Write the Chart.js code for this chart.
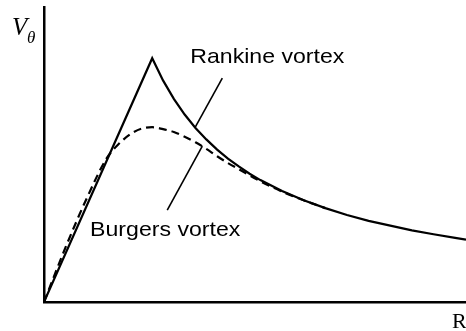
<!DOCTYPE html>
<html>
<head>
<meta charset="utf-8">
<script src="https://cdn.jsdelivr.net/npm/chart.js@4.4.0/dist/chart.umd.min.js"></script>
<style>
  html, body { margin: 0; padding: 0; background: #fff; }
  #wrap { width: 466px; height: 331px; }
</style>
</head>
<body>
<div id="wrap"><canvas id="vortex" width="466" height="331"></canvas></div>
<script>
// radius (core radius = 1) and tangential velocity (peak Rankine = 1)
var rankineR = [0, 1, 1.1, 1.2, 1.3, 1.4, 1.5, 1.6, 1.7, 1.8, 1.9, 2.0, 2.2, 2.4, 2.6, 2.8, 3.0, 3.2, 3.4, 3.6, 3.8, 3.9];
var rankineV = [0, 1, 0.909, 0.833, 0.769, 0.714, 0.667, 0.625, 0.588, 0.556, 0.526, 0.5, 0.455, 0.417, 0.385, 0.357, 0.333, 0.313, 0.294, 0.278, 0.263, 0.256];

var burgersR = [0, 0.2, 0.4, 0.58, 0.7, 0.8, 0.9, 1.0, 1.1, 1.2, 1.3, 1.4, 1.5, 1.6, 1.7, 1.8, 2.0, 2.2, 2.4, 2.6];
var burgersV = [0, 0.225, 0.43, 0.59, 0.652, 0.689, 0.711, 0.717, 0.709, 0.697, 0.678, 0.655, 0.628, 0.598, 0.57, 0.545, 0.495, 0.453, 0.417, 0.385];

// callout text and leader lines, in data units
var labelText = ['Rankine vortex', 'Burgers vortex'];
var labelAt = [[1.352, 0.98], [0.426, 0.27]];
var leaderFrom = [[1.648, 0.918], [1.463, 0.639]];
var leaderTo = [[1.398, 0.717], [1.139, 0.377]];

function pts(xs, ys) {
  return xs.map(function(x, i) { return {x: x, y: ys[i]}; });
}

var annotate = {
  id: 'annotate',
  afterDatasetsDraw: function(chart) {
    var c = chart.ctx, sx = chart.scales.x, sy = chart.scales.y;
    c.save();
    c.strokeStyle = '#000';
    c.fillStyle = '#000';
    c.lineWidth = 1.6;
    for (var i = 0; i < leaderFrom.length; i++) {
      c.beginPath();
      c.moveTo(sx.getPixelForValue(leaderFrom[i][0]), sy.getPixelForValue(leaderFrom[i][1]));
      c.lineTo(sx.getPixelForValue(leaderTo[i][0]), sy.getPixelForValue(leaderTo[i][1]));
      c.stroke();
    }
    c.font = '21px "Liberation Sans", Arial, sans-serif';
    c.textBaseline = 'alphabetic';
    for (var j = 0; j < labelText.length; j++) {
      c.save();
      c.translate(sx.getPixelForValue(labelAt[j][0]), sy.getPixelForValue(labelAt[j][1]));
      c.scale(1.1, 1);
      c.fillText(labelText[j], 0, 0);
      c.restore();
    }
    // axis names
    c.font = 'italic 25px "Liberation Serif", "Times New Roman", serif';
    c.fillText('V', 12, 35);
    c.font = 'italic 17px "Liberation Serif", "Times New Roman", serif';
    c.fillText('θ', 27, 43);
    c.font = '22px "Liberation Serif", "Times New Roman", serif';
    c.fillText('R', 452, 328);
    c.restore();
  }
};

var config = {
  type: 'line',
  data: {
    datasets: [{
      label: 'Rankine vortex',
      data: pts(rankineR, rankineV),
      borderColor: '#000',
      borderWidth: 2.2,
      pointRadius: 0,
      tension: 0
    }, {
      label: 'Burgers vortex',
      data: pts(burgersR, burgersV),
      borderColor: '#000',
      borderWidth: 2.2,
      borderDash: [8, 5],
      pointRadius: 0,
      cubicInterpolationMode: 'monotone'
    }]
  },
  options: {
    responsive: false,
    animation: false,
    layout: { padding: { left: 44, top: 7, right: 0, bottom: 29 } },
    plugins: { legend: { display: false }, tooltip: { enabled: false } },
    scales: {
      x: {
        type: 'linear', min: 0, max: 3.9,
        grid: { display: false, drawTicks: false },
        ticks: { display: false },
        border: { color: '#000', width: 2.5 }
      },
      y: {
        type: 'linear', min: 0, max: 1.21,
        grid: { display: false, drawTicks: false },
        ticks: { display: false },
        border: { color: '#000', width: 2.5 }
      }
    }
  },
  plugins: [annotate]
};

window.onload = function() {
  var ctx = document.getElementById('vortex').getContext('2d');
  window.vortexChart = new Chart(ctx, config);
};
</script>
</body>
</html>
